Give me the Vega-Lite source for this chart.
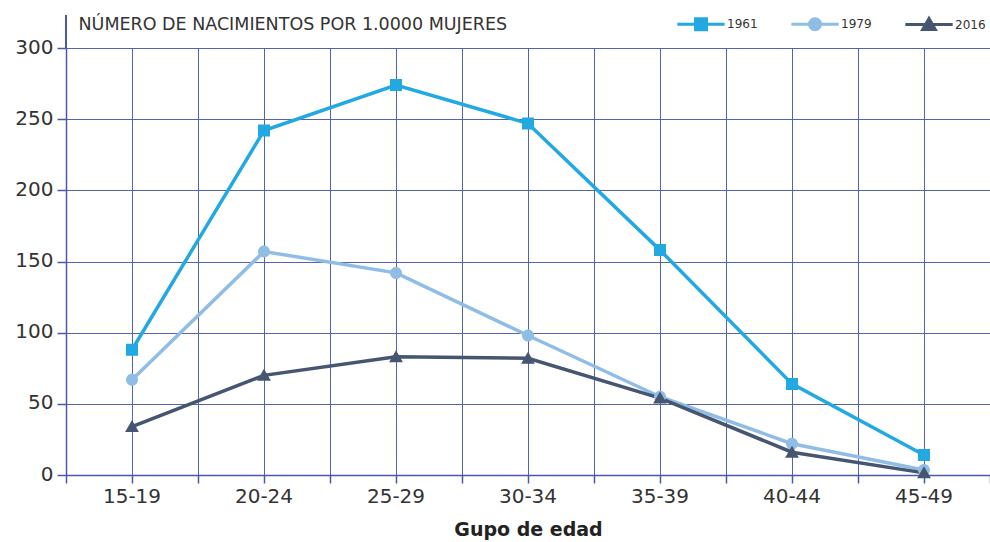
{
  "$schema": "https://vega.github.io/schema/vega-lite/v6.json",
  "width": 924,
  "height": 427,
  "autosize": {"type": "none"},
  "padding": {"left": 66, "top": 48, "right": 0, "bottom": 67},
  "background": "white",
  "config": {
    "font": "DejaVu Sans",
    "view": {"stroke": null},
    "axis": {"labelColor": "#333333", "titleColor": "#222222"}
  },
  "data": {
    "values": [
      {"grupo": "15-19", "anio": "1961", "valor": 88},
      {"grupo": "20-24", "anio": "1961", "valor": 242},
      {"grupo": "25-29", "anio": "1961", "valor": 274},
      {"grupo": "30-34", "anio": "1961", "valor": 247},
      {"grupo": "35-39", "anio": "1961", "valor": 158},
      {"grupo": "40-44", "anio": "1961", "valor": 64},
      {"grupo": "45-49", "anio": "1961", "valor": 14},
      {"grupo": "15-19", "anio": "1979", "valor": 67},
      {"grupo": "20-24", "anio": "1979", "valor": 157},
      {"grupo": "25-29", "anio": "1979", "valor": 142},
      {"grupo": "30-34", "anio": "1979", "valor": 98},
      {"grupo": "35-39", "anio": "1979", "valor": 55},
      {"grupo": "40-44", "anio": "1979", "valor": 22},
      {"grupo": "45-49", "anio": "1979", "valor": 3.5},
      {"grupo": "15-19", "anio": "2016", "valor": 34},
      {"grupo": "20-24", "anio": "2016", "valor": 70},
      {"grupo": "25-29", "anio": "2016", "valor": 83},
      {"grupo": "30-34", "anio": "2016", "valor": 82},
      {"grupo": "35-39", "anio": "2016", "valor": 54},
      {"grupo": "40-44", "anio": "2016", "valor": 16},
      {"grupo": "45-49", "anio": "2016", "valor": 1.5}
    ]
  },
  "resolve": {"axis": {"x": "independent"}},
  "layer": [
    {
      "mark": {"type": "rule", "color": "#4b59a8", "strokeWidth": 1.5, "clip": false},
      "encoding": {
        "x": {"datum": "15-19", "type": "nominal", "bandPosition": 0, "axis": null},
        "y": {"datum": 300, "type": "quantitative"},
        "y2": {"datum": 323}
      }
    },
    {
      "mark": {"type": "line", "strokeWidth": 3.5},
      "encoding": {
        "x": {
          "field": "grupo", "type": "nominal", "sort": null,
          "scale": {"type": "band", "paddingInner": 0, "paddingOuter": 0},
          "axis": {
            "orient": "bottom",
            "title": "Gupo de edad",
            "titleFontSize": 19,
            "titleFontWeight": "bold",
            "titlePadding": 14,
            "labelAngle": 0,
            "labelFontSize": 20,
            "labelPadding": 3,
            "tickBand": "center",
            "grid": true,
            "gridColor": "#5563ad",
            "gridOpacity": 1,
            "gridWidth": 1,
            "ticks": true,
            "tickSize": 8,
            "tickColor": "#4b59a8",
            "tickWidth": 1.5,
            "domain": true,
            "domainColor": "#4b59a8",
            "domainWidth": 1.5,
            "zindex": 0
          }
        },
        "y": {
          "field": "valor", "type": "quantitative",
          "scale": {"domain": [0, 300], "nice": false},
          "axis": {
            "title": "NÚMERO DE NACIMIENTOS POR 1.0000 MUJERES",
            "titleAngle": 0,
            "titleAlign": "left",
            "titleBaseline": "alphabetic",
            "titleX": 12,
            "titleY": -19,
            "titleFontSize": 17.5,
            "titleFontWeight": "normal",
            "titleColor": "#333333",
            "values": [0, 50, 100, 150, 200, 250, 300],
            "labelFontSize": 20,
            "labelPadding": 4,
            "labelBaseline": "middle",
            "labelOffset": -1,
            "grid": true,
            "gridColor": "#5563ad",
            "gridOpacity": 1,
            "gridWidth": 1,
            "tickSize": 9,
            "tickColor": "#4b59a8",
            "tickWidth": 1.5,
            "domainColor": "#4b59a8",
            "domainWidth": 1.5,
            "zindex": 0
          }
        },
        "color": {
          "field": "anio", "type": "nominal",
          "scale": {"domain": ["1961", "1979", "2016"], "range": ["#22a9e1", "#8fbde5", "#465570"]}
        }
      }
    },
    {
      "mark": {"type": "point", "filled": true, "opacity": 1, "size": 144},
      "encoding": {
        "x": {
          "field": "grupo", "type": "nominal", "sort": null,
          "axis": {
            "orient": "bottom",
            "title": null,
            "labels": false,
            "tickBand": "extent",
            "grid": true,
            "gridColor": "#5563ad",
            "gridOpacity": 1,
            "gridWidth": 1,
            "ticks": true,
            "tickSize": 8,
            "tickColor": "#4b59a8",
            "tickWidth": 1.5,
            "domain": false,
            "zindex": 0
          }
        },
        "y": {"field": "valor", "type": "quantitative"},
        "color": {
          "field": "anio", "type": "nominal",
          "legend": {
            "orient": "none",
            "legendX": 628,
            "legendY": -31,
            "direction": "horizontal",
            "title": null,
            "symbolSize": 121,
            "symbolStrokeWidth": 3,
            "labelOffset": 19,
            "columnPadding": 27,
            "labelFontSize": 12,
            "labelColor": "#333333",
            "encode": {
              "symbols": {"update": {"stroke": {"scale": "color", "field": "value"}, "strokeWidth": {"value": 3}}}
            }
          }
        },
        "shape": {
          "field": "anio", "type": "nominal",
          "scale": {
            "domain": ["1961", "1979", "2016"],
            "range": [
              "M-4.3,0H4.3M-1,-1H1V1H-1Z",
              "M-4.3,0H4.3M-1,0A1,1,0,1,0,1,0A1,1,0,1,0,-1,0Z",
              "M-4.3,0H4.3M0,-1.1L1.15,0.9H-1.15Z"
            ]
          }
        }
      }
    }
  ]
}
